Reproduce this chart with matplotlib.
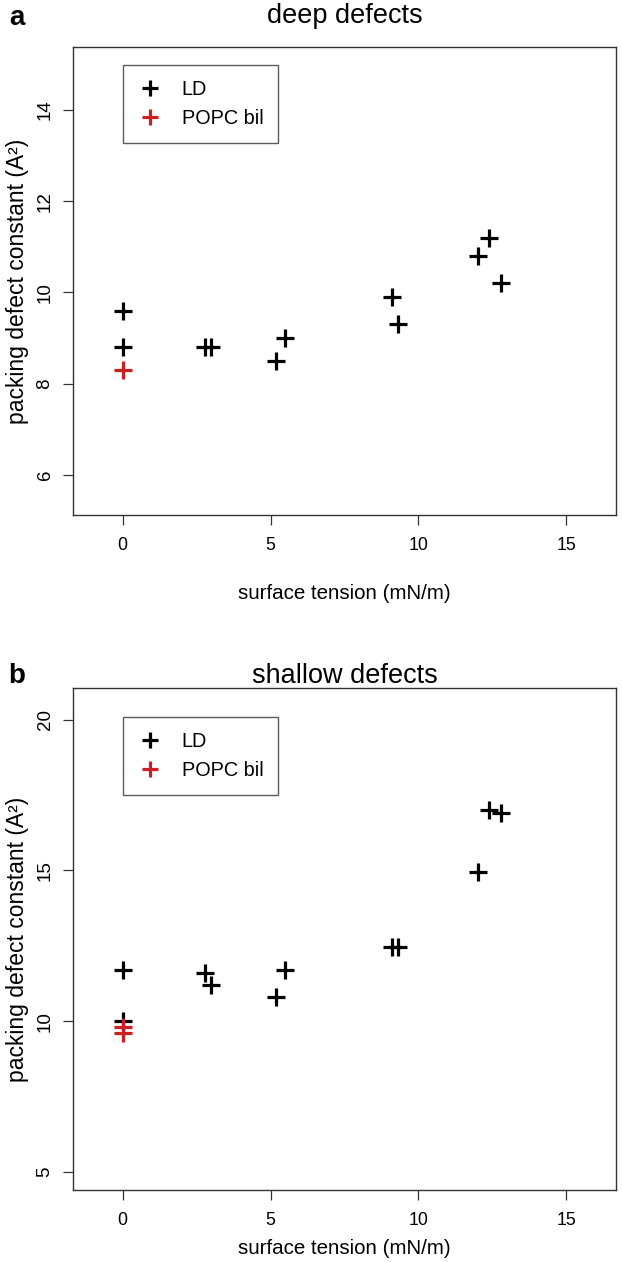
import matplotlib
matplotlib.use("Agg")
import matplotlib.pyplot as plt

plt.rcParams['font.family'] = ['Liberation Sans', 'DejaVu Sans']

# surface tension (mN/m) for LD systems
ld_tension = [0, 0, 2.8, 3.0, 5.2, 5.5, 9.1, 9.3, 12.0, 12.4, 12.8]
# deep defects packing defect constant (A^2)
deep_ld = [9.6, 8.8, 8.8, 8.8, 8.5, 9.0, 9.9, 9.3, 10.8, 11.2, 10.2]
# shallow defects packing defect constant (A^2)
shallow_ld = [11.7, 10.0, 11.6, 11.2, 10.8, 11.7, 12.45, 12.45, 14.95, 17.0, 16.9]

popc_tension_deep = [0]
deep_popc = [8.3]
popc_tension_shallow = [0, 0]
shallow_popc = [9.8, 9.6]

titles = ["deep defects", "shallow defects"]
panel_labels = ["a", "b"]
xticks = [0, 5, 10, 15]
yticks_deep = [6, 8, 10, 12, 14]
yticks_shallow = [5, 10, 15, 20]

RED = '#cc1f1f'

fig = plt.figure(figsize=(6.22, 12.62), dpi=100)
W, H = 622, 1262

def add_axes(left, right, top, bottom):
    return fig.add_axes([left / W, 1 - bottom / H, (right - left) / W, (bottom - top) / H])

# (axes box top, bottom, title y, xlabel y) in pixels
boxes = [(47, 515, 16, 594), (688, 1190, 676, 1249)]
axA = add_axes(73, 616, boxes[0][0], boxes[0][1])
axB = add_axes(73, 616, boxes[1][0], boxes[1][1])

specs = [
    (axA, deep_ld, popc_tension_deep, deep_popc, (5.12, 15.38), yticks_deep, 65),
    (axB, shallow_ld, popc_tension_shallow, shallow_popc, (4.4, 21.05), yticks_shallow, 717),
]

for i, (ax, ld, pt, pv, ylim, yt, legtop) in enumerate(specs):
    top, bot, ty, xly = boxes[i]
    hpx = bot - top
    ax.plot(ld_tension, ld, linestyle='none', marker='+', color='black',
            markersize=12.5, markeredgewidth=2.3, label='LD')
    ax.plot(pt, pv, linestyle='none', marker='+', color=RED,
            markersize=12.5, markeredgewidth=2.3, label='POPC bil')
    ax.set_xlim(-1.68, 16.68)
    ax.set_ylim(*ylim)
    ax.set_xticks(xticks)
    ax.set_yticks(yt)
    ax.set_xticklabels([str(v) for v in xticks], fontsize=12.8)
    ax.set_yticklabels([str(v) for v in yt], rotation=90, va='center', fontsize=13.5)
    ax.tick_params(direction='out', length=7, width=0.9, color='#333333')
    ax.tick_params(axis='x', pad=9)
    ax.tick_params(axis='y', pad=7)
    for s in ax.spines.values():
        s.set_linewidth(1.0)
        s.set_color('#333333')
    ax.set_xlabel('surface tension (mN/m)', fontsize=14.8)
    ax.xaxis.set_label_coords(0.5, -(xly - bot) / hpx)
    ax.xaxis.label.set_va('center')
    ax.set_ylabel('packing defect constant (A²)', fontsize=16.5)
    ax.yaxis.set_label_coords(-(73 - 18) / 543, 0.5)
    ax.yaxis.label.set_va('center')
    ax.text(0.5, (bot - ty) / hpx, titles[i], transform=ax.transAxes,
            ha='center', va='center', fontsize=19.5)
    leg = ax.legend(loc='upper left', bbox_to_anchor=(50 / 543, (bot - legtop) / hpx),
                    borderaxespad=0, fontsize=14.3,
                    frameon=True, fancybox=False, handlelength=1.2,
                    handletextpad=1.0, borderpad=0.75, labelspacing=0.5,
                    markerscale=0.95)
    leg.get_frame().set_edgecolor('#333333')
    leg.get_frame().set_linewidth(1.0)

fig.text(17 / W, 1 - 18 / H, 'a', fontsize=20, fontweight='bold',
         va='center', ha='center')
fig.text(17 / W, 1 - 676 / H, 'b', fontsize=20, fontweight='bold',
         va='center', ha='center')

fig.savefig('out.png', dpi=100)
